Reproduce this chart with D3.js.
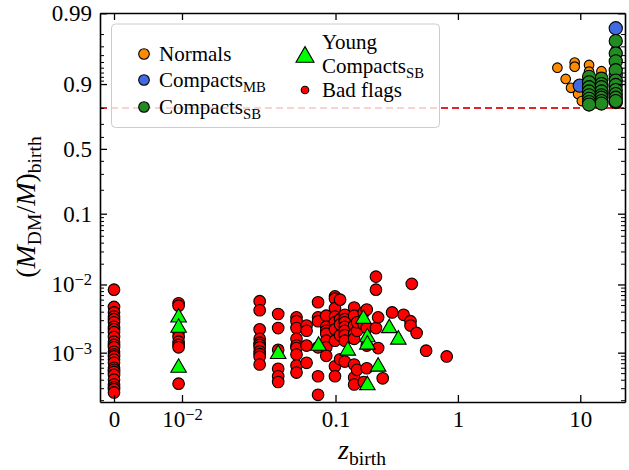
<!DOCTYPE html>
<html><head><meta charset="utf-8">
<script src="https://cdn.jsdelivr.net/npm/d3@7"></script>
<style>
body{margin:0;background:#fff}
svg{display:block}
text{font-family:"Liberation Serif","Times New Roman",serif}
</style>
</head><body>
<svg id="c" width="629" height="470"></svg>
<script>
// ---------------- data ----------------
const zRange = [-0.00206, 23.2];
const fRange = [1.88e-4, 0.9901];
const xTicks = [0, 0.01, 0.1, 1, 10];
const xTickLabels = ["0", "10|\u22122", "0.1", "1", "10"];
const yTicks = [1e-3, 1e-2, 0.1, 0.5, 0.9, 0.99];
const yTickLabels = ["10|\u22123", "10|\u22122", "0.1", "0.5", "0.9", "0.99"];
const threshold = 0.8;

const normals = [
  [6.5, 0.940], [7.6, 0.9145], [8.4, 0.888], [9.0, 0.949], [9.0, 0.942],
  [9.6, 0.865], [10.3, 0.835], [11.8, 0.945], [11.8, 0.932], [14.9, 0.9245],
  [14.9, 0.933], [19.5, 0.966], [19.5, 0.944], [19.5, 0.905]
];
const compactsMB = [
  [19.5, 0.9835], [9.9, 0.895], [19.5, 0.925], [19.5, 0.83], [14.9, 0.87], [11.8, 0.88]
];
const compactsSB = [
  [19.5, 0.9748], [19.5, 0.962], [19.5, 0.951], [19.5, 0.935], [19.5, 0.91], [19.5, 0.897],
  [19.5, 0.88], [19.5, 0.865], [19.5, 0.85], [19.5, 0.835],
  [14.9, 0.915], [14.9, 0.90], [14.9, 0.89], [14.9, 0.875], [14.9, 0.86], [14.9, 0.85],
  [14.9, 0.835], [14.9, 0.823],
  [11.8, 0.92], [11.8, 0.905], [11.8, 0.89], [11.8, 0.875], [11.8, 0.86], [11.8, 0.845],
  [11.8, 0.83], [11.8, 0.818]
];
const youngSB = [
  [0.0095, 0.0034], [0.0095, 0.0024], [0.0095, 0.00062], [0.034, 0.00099],
  [0.0727, 0.00131], [0.126, 0.00111], [0.169, 0.00324], [0.182, 0.00174],
  [0.182, 0.00136], [0.223, 0.000644], [0.275, 0.00237], [0.326, 0.00161],
  [0.182, 0.000344]
];
const badFlags = [
  // z = 0
  [0, 0.0084], [0, 0.0047], [0, 0.0039], [0, 0.0034], [0, 0.0031], [0, 0.0028],
  [0, 0.0024], [0, 0.0022], [0, 0.0020], [0, 0.0017], [0, 0.00145], [0, 0.0013],
  [0, 0.0012], [0, 0.00103], [0, 0.00094], [0, 0.00088], [0, 0.00079], [0, 0.00071],
  [0, 0.0006], [0, 0.00056], [0, 0.00052], [0, 0.00047], [0, 0.0004], [0, 0.00034],
  [0, 0.00031], [0, 0.00029], [0, 0.00026],
  // z ~ 0.01
  [0.0095, 0.0053], [0.0095, 0.0049], [0.0095, 0.002], [0.0095, 0.0017],
  [0.0095, 0.00145], [0.0095, 0.0013], [0.0095, 0.0012], [0.0095, 0.00035],
  // middle cluster
  [0.024, 0.0057], [0.024, 0.0042], [0.024, 0.0022], [0.024, 0.0016], [0.024, 0.0014],
  [0.024, 0.0013], [0.024, 0.0012], [0.024, 0.00104], [0.024, 0.00095], [0.024, 0.00087],
  [0.024, 0.00067],
  [0.034, 0.0037], [0.034, 0.0023], [0.034, 0.0011], [0.034, 0.00058], [0.034, 0.00045],
  [0.034, 0.00037],
  [0.048, 0.0033], [0.048, 0.0029], [0.048, 0.0023], [0.048, 0.0016], [0.048, 0.00127],
  [0.048, 0.00117], [0.048, 0.00094], [0.048, 0.00065], [0.048, 0.00051],
  [0.058, 0.0025], [0.058, 0.0021], [0.058, 0.00127], [0.058, 0.00071],
  [0.072, 0.0055], [0.072, 0.0033], [0.072, 0.0029], [0.072, 0.0012], [0.072, 0.00045],
  [0.072, 0.00024],
  [0.084, 0.0035], [0.084, 0.0024], [0.084, 0.0021], [0.084, 0.0019], [0.084, 0.0015],
  [0.084, 0.0012], [0.084, 0.0009],
  [0.099, 0.0067], [0.099, 0.0062], [0.099, 0.0045], [0.099, 0.0034], [0.099, 0.0028],
  [0.099, 0.0022], [0.099, 0.0015], [0.099, 0.00063], [0.099, 0.00045],
  [0.109, 0.0060], [0.109, 0.0031], [0.109, 0.0026], [0.109, 0.0018], [0.109, 0.0008],
  [0.119, 0.0036], [0.119, 0.0031], [0.119, 0.0028], [0.119, 0.0024], [0.119, 0.0021],
  [0.119, 0.0018], [0.119, 0.0015], [0.119, 0.00074],
  [0.142, 0.0046], [0.142, 0.0035], [0.142, 0.0025], [0.142, 0.0019], [0.142, 0.0016],
  [0.142, 0.00067], [0.142, 0.00043], [0.142, 0.00034],
  [0.15, 0.0021], [0.15, 0.0028], [0.15, 0.00056],
  [0.17, 0.0039], [0.17, 0.0026], [0.17, 0.00037],
  [0.18, 0.0043], [0.18, 0.0023], [0.18, 0.00127], [0.18, 0.00059],
  [0.214, 0.013], [0.214, 0.0084], [0.214, 0.0023],
  [0.223, 0.0033], [0.223, 0.00117], [0.243, 0.00042],
  [0.29, 0.0039], [0.36, 0.0036], [0.41, 0.0029], [0.41, 0.0025], [0.42, 0.0102],
  [0.46, 0.00195], [0.55, 0.00107], [0.81, 0.00088]
];

// ---------------- scales ----------------
const LT = 0.02, LS = 1 / 0.9;
function symlogT(z) { const a = Math.abs(z); return a <= LT ? z / LT * LS : Math.sign(z) * (LS + Math.log10(a / LT)); }
function logitT(p) { return Math.log10(p / (1 - p)); }
function wrap(tf, lin) {
  const s = v => lin(tf(v));
  s.range = () => lin.range(); s.domain = () => lin.domain();
  s.copy = () => wrap(tf, lin.copy());
  return s;
}
const m = {l: 100, r: 625, t: 13, b: 402};
const x = wrap(symlogT, d3.scaleLinear().domain(zRange.map(symlogT)).range([m.l, m.r]));
const y = wrap(logitT, d3.scaleLinear().domain(fRange.map(logitT)).range([m.b, m.t]));

// minor tick positions for logit axis
const yMinor = [];
for (let d = -4; d <= -2; d++) for (let k = 2; k <= 9; k++) yMinor.push(k * Math.pow(10, d));
[0.2, 0.3, 0.4, 0.6, 0.7, 0.8].forEach(v => yMinor.push(v));
for (let k = 1; k <= 8; k++) yMinor.push(0.9 + k * 0.01);
const yMinorIn = yMinor.filter(v => v > fRange[0] && v < fRange[1]);

const svg = d3.select("#c");
const FONT = '"Liberation Serif","Times New Roman",serif';

function styleAxis(g, fs) {
  g.attr("font-family", FONT).attr("font-size", fs);
  g.select(".domain").attr("stroke", "#000").attr("stroke-width", 1.6);
  g.selectAll(".tick line").attr("stroke", "#000").attr("stroke-width", 1.3);
  g.selectAll(".tick text").attr("fill", "#000");
}
function supLabels(g) {
  g.selectAll(".tick text").each(function () {
    const t = d3.select(this); const s = t.text();
    if (s.indexOf("|") >= 0) {
      const [b, e] = s.split("|");
      t.text(null);
      t.append("tspan").text(b);
      t.append("tspan").attr("dy", "-0.42em").attr("font-size", "0.72em").text(e);
    }
  });
}

// red threshold line
svg.append("line")
  .attr("x1", m.l).attr("x2", m.r).attr("y1", y(threshold)).attr("y2", y(threshold))
  .attr("stroke", "#e0262b").attr("stroke-width", 1.8).attr("stroke-dasharray", "7,4");

// points
function circles(data, fill, r) {
  svg.append("g").selectAll("circle").data(data).join("circle")
    .attr("cx", d => x(d[0])).attr("cy", d => y(d[1])).attr("r", r)
    .attr("fill", fill).attr("stroke", "#000").attr("stroke-width", 1.1);
}
circles(badFlags, "#ff0000", 5.8);
circles(normals, "#ff8c00", 4.8);
circles(compactsMB, "#4169e1", 6.6);
circles(compactsSB, "#228b22", 6.6);
const tri = d3.symbol().type(d3.symbolTriangle).size(105);
svg.append("g").selectAll("path").data(youngSB).join("path")
  .attr("d", tri).attr("transform", d => `translate(${x(d[0])},${y(d[1]) + 1})`)
  .attr("fill", "#00ff00").attr("stroke", "#000").attr("stroke-width", 1.1);

// axes
const gB = svg.append("g").attr("transform", `translate(0,${m.b})`)
  .call(d3.axisBottom(x).tickValues(xTicks).tickSize(-7).tickSizeOuter(0).tickPadding(9)
    .tickFormat((d, i) => xTickLabels[i]));
styleAxis(gB, 23); supLabels(gB);
const gT = svg.append("g").attr("transform", `translate(0,${m.t})`)
  .call(d3.axisTop(x).tickValues(xTicks).tickSize(-7).tickSizeOuter(0).tickFormat(""));
styleAxis(gT, 23);
const gL = svg.append("g").attr("transform", `translate(${m.l},0)`)
  .call(d3.axisLeft(y).tickValues(yTicks).tickSize(-7).tickSizeOuter(0).tickPadding(8)
    .tickFormat((d, i) => yTickLabels[i]));
styleAxis(gL, 23); supLabels(gL);
const gR = svg.append("g").attr("transform", `translate(${m.r},0)`)
  .call(d3.axisRight(y).tickValues(yTicks).tickSize(-7).tickSizeOuter(0).tickFormat(""));
styleAxis(gR, 23);
[[d3.axisLeft, m.l], [d3.axisRight, m.r]].forEach(([ax, px]) => {
  const g = svg.append("g").attr("transform", `translate(${px},0)`)
    .call(ax(y).tickValues(yMinorIn).tickSize(-4).tickSizeOuter(0).tickFormat(""));
  g.select(".domain").remove();
  g.selectAll(".tick line").attr("stroke", "#000").attr("stroke-width", 1);
});

// rich text helper
function rich(parent, parts, size) {
  const t = parent.append("text").attr("font-size", size).attr("fill", "#000");
  let shifted = false;
  parts.forEach(p => {
    const s = t.append("tspan").text(p.t);
    if (p.it) s.attr("font-style", "italic");
    if (p.sub && !shifted) { s.attr("font-size", size * 0.7).attr("dy", size * 0.22); shifted = true; }
    else if (p.sub) { s.attr("font-size", size * 0.7); }
    else if (!p.sub && shifted) { s.attr("dy", -size * 0.22); shifted = false; }
  });
  return t;
}

// axis labels
rich(svg.append("g").attr("transform", "translate(362,459)"),
  [{t: "z", it: true}, {t: "birth", sub: true}], 28).attr("text-anchor", "middle");
rich(svg.append("g").attr("transform", "translate(35,207) rotate(-90)"),
  [{t: "("}, {t: "M", it: true}, {t: "DM", sub: true}, {t: "/"}, {t: "M", it: true}, {t: ")"},
   {t: "birth", sub: true}], 28).attr("text-anchor", "middle");

// legend
const lg = svg.append("g");
lg.append("rect").attr("x", 111.5).attr("y", 24).attr("width", 328).attr("height", 103.5)
  .attr("rx", 4).attr("fill", "#fff").attr("fill-opacity", 0.8)
  .attr("stroke", "#cccccc").attr("stroke-width", 1);
const legFS = 21;
[[54, "#ff8c00", 5.3, [{t: "Normals"}]],
 [80, "#4169e1", 5.3, [{t: "Compacts"}, {t: "MB", sub: true}]],
 [107, "#228b22", 5.3, [{t: "Compacts"}, {t: "SB", sub: true}]]].forEach(([cy, c, r, parts]) => {
  lg.append("circle").attr("cx", 144).attr("cy", cy).attr("r", r).attr("fill", c)
    .attr("stroke", "#000").attr("stroke-width", 1.1);
  rich(lg.append("g").attr("transform", `translate(159,${cy + 7})`), parts, legFS);
});
lg.append("path").attr("d", d3.symbol().type(d3.symbolTriangle).size(140))
  .attr("transform", "translate(305,57)").attr("fill", "#00ff00")
  .attr("stroke", "#000").attr("stroke-width", 1.1);
rich(lg.append("g").attr("transform", "translate(322,49)"), [{t: "Young"}], legFS);
rich(lg.append("g").attr("transform", "translate(322,73)"), [{t: "Compacts"}, {t: "SB", sub: true}], legFS);
lg.append("circle").attr("cx", 305).attr("cy", 90).attr("r", 3.8).attr("fill", "#ff0000")
  .attr("stroke", "#000").attr("stroke-width", 1.1);
rich(lg.append("g").attr("transform", "translate(322,97)"), [{t: "Bad flags"}], legFS);
</script>
</body></html>
